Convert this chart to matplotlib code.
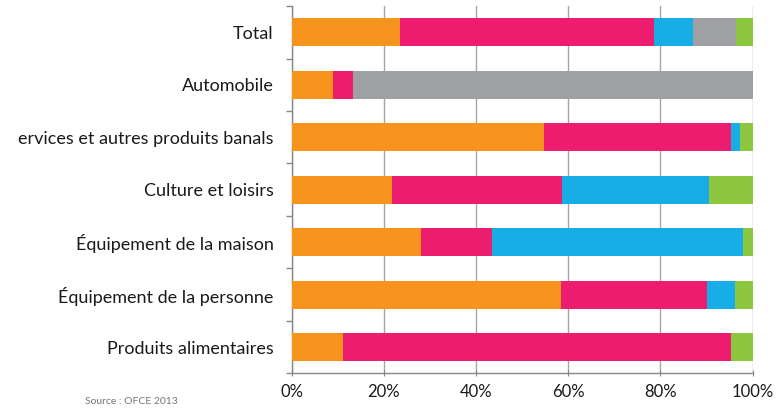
import matplotlib
matplotlib.use("Agg")
import matplotlib.pyplot as plt
import numpy as np
from matplotlib.ticker import FixedLocator, PercentFormatter

plt.rcParams['font.family'] = ['Lato', 'DejaVu Sans']

# Categories listed bottom to top
categories = [
    "Produits alimentaires",
    "Équipement de la personne",
    "Équipement de la maison",
    "Culture et loisirs",
    "ervices et autres produits banals",
    "Automobile",
    "Total",
]

# Shares (%) of each segment per category, bottom to top
orange = [11.1, 58.4, 28.1, 21.8, 54.8, 8.9, 23.6]
pink   = [84.1, 31.6, 15.3, 36.9, 40.6, 4.5, 55.1]
blue   = [0.0,  6.2,  54.4, 31.9, 1.9,  0.0, 8.4]
gray   = [0.0,  0.0,  0.0,  0.0,  0.0, 86.6, 9.2]
green  = [4.8,  3.8,  2.2,  9.4,  2.7,  0.0, 3.7]

series = [orange, pink, blue, gray, green]
colors = ["#F7941D", "#EC1C6E", "#17AEE8", "#9EA0A3", "#8DC63F"]

x_ticks = [0, 20, 40, 60, 80, 100]

fig = plt.figure(figsize=(7.82, 4.08), dpi=100)
ax = fig.add_axes([0.373, 0.085, 0.5895, 0.9])

y = np.arange(len(categories))
left = np.zeros(len(categories))
for vals, col in zip(series, colors):
    vals = np.array(vals)
    ax.barh(y, vals, left=left, height=0.53, color=col, zorder=3, linewidth=0)
    left += vals

ax.set_xlim(0, 100)
ax.set_ylim(-0.5, len(categories) - 0.5)

ax.xaxis.set_major_locator(FixedLocator(x_ticks))
ax.xaxis.set_major_formatter(PercentFormatter(decimals=0))
ax.grid(axis='x', color='#A6A6A6', linewidth=1.0, zorder=0)

ax.set_yticks(y)
ax.set_yticklabels(categories)
ax.yaxis.set_minor_locator(FixedLocator(np.arange(-0.5, len(categories), 1.0)))
ax.tick_params(axis='y', which='major', length=0, pad=13, labelsize=13, labelcolor='#1a1a1a')
ax.tick_params(axis='y', which='minor', length=4, color='#888888', width=1)
ax.tick_params(axis='x', which='major', length=4, direction='inout', color='#888888',
               labelsize=12, labelcolor='#1a1a1a', pad=6)

for side in ['top', 'right']:
    ax.spines[side].set_visible(False)
for side in ['left', 'bottom']:
    ax.spines[side].set_color('#888888')
    ax.spines[side].set_linewidth(1)

fig.text(0.109, 0.005, "Source : OFCE 2013", fontsize=7.5, color='#777777', va='bottom', ha='left')

fig.savefig("out.png", dpi=100)
